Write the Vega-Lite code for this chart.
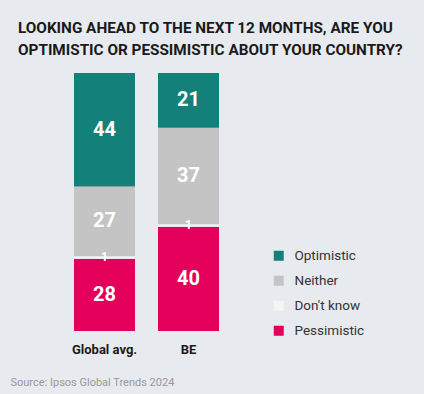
{
  "$schema": "https://vega.github.io/schema/vega-lite/v6.json",
  "width": 145,
  "height": 258,
  "autosize": {"type": "none"},
  "padding": {"left": 74, "top": 73, "right": 205, "bottom": 63},
  "background": "#e7eaee",
  "config": {"view": {"stroke": null}},
  "title": {
    "text": ["LOOKING AHEAD TO THE NEXT 12 MONTHS, ARE YOU", "OPTIMISTIC OR PESSIMISTIC ABOUT YOUR COUNTRY?"],
    "anchor": "start",
    "frame": "group",
    "dx": -56,
    "offset": 15,
    "font": "Roboto",
    "fontSize": 15.3,
    "fontWeight": "bold",
    "color": "#1a1a1a",
    "lineHeight": 22
  },
  "data": {
    "values": [
      {"country": "Global avg.", "answer": "Pessimistic", "order": 1, "value": 28},
      {"country": "Global avg.", "answer": "Don't know", "order": 2, "value": 1},
      {"country": "Global avg.", "answer": "Neither", "order": 3, "value": 27},
      {"country": "Global avg.", "answer": "Optimistic", "order": 4, "value": 44},
      {"country": "BE", "answer": "Pessimistic", "order": 1, "value": 40},
      {"country": "BE", "answer": "Don't know", "order": 2, "value": 1},
      {"country": "BE", "answer": "Neither", "order": 3, "value": 37},
      {"country": "BE", "answer": "Optimistic", "order": 4, "value": 21}
    ]
  },
  "transform": [
    {"stack": "value", "groupby": ["country"], "sort": [{"field": "order", "order": "ascending"}], "offset": "normalize", "as": ["y0", "y1"]}
  ],
  "layer": [
    {
      "mark": {"type": "bar"},
      "encoding": {
        "x": {
          "field": "country", "type": "nominal", "sort": ["Global avg.", "BE"],
          "scale": {"paddingInner": 0.274, "paddingOuter": 0},
          "axis": {
            "title": "Source: Ipsos Global Trends 2024",
            "titleAnchor": "start", "titleAlign": "left", "titleX": -64, "titleY": 54,
            "titleBaseline": "alphabetic",
            "titleFont": "Roboto", "titleFontSize": 11, "titleFontWeight": "normal", "titleColor": "#999999",
            "labelAngle": 0, "labelFont": "Roboto", "labelFontSize": 13, "labelFontWeight": "bold",
            "labelColor": "#1a1a1a", "labelPadding": 12, "domain": false, "ticks": false
          }
        },
        "y": {"field": "y0", "type": "quantitative", "scale": {"domain": [0, 1], "nice": false}, "axis": null},
        "y2": {"field": "y1"},
        "color": {
          "field": "answer", "type": "nominal",
          "scale": {"domain": ["Optimistic", "Neither", "Don't know", "Pessimistic"], "range": ["#13807a", "#c4c4c4", "#f4f4f4", "#e4005a"]},
          "legend": {
            "title": null, "orient": "none", "legendX": 198, "legendY": 176,
            "symbolType": "square", "symbolSize": 100, "symbolStrokeWidth": 0,
            "labelFont": "Roboto", "labelFontSize": 13.5, "labelColor": "#333333",
            "labelOffset": 9, "rowPadding": 10, "padding": 0,
            "encode": {"symbols": {"update": {"fill": {"signal": "datum.value === 'Neither' ? '#a6a6a6' : scale('color', datum.value)"}, "opacity": {"value": 1}}}}
          }
        }
      }
    },
    {
      "transform": [
        {"filter": "datum.answer !== \"Don't know\""},
        {"fold": ["y0", "y1"], "as": ["k", "v"]}
      ],
      "mark": {"type": "text", "font": "Roboto", "fontWeight": "bold", "fontSize": 20, "color": "white", "baseline": "middle"},
      "encoding": {
        "x": {"field": "country", "type": "nominal", "sort": ["Global avg.", "BE"]},
        "y": {"aggregate": "mean", "field": "v", "type": "quantitative"},
        "text": {"field": "value", "type": "quantitative"},
        "detail": {"field": "answer"}
      }
    },
    {
      "transform": [
        {"filter": "datum.answer === \"Don't know\""},
        {"fold": ["y0", "y1"], "as": ["k", "v"]}
      ],
      "mark": {"type": "text", "font": "Roboto", "fontWeight": "bold", "fontSize": 12, "color": "white", "baseline": "middle"},
      "encoding": {
        "x": {"field": "country", "type": "nominal", "sort": ["Global avg.", "BE"]},
        "y": {"aggregate": "mean", "field": "v", "type": "quantitative"},
        "text": {"field": "value", "type": "quantitative"},
        "detail": {"field": "answer"}
      }
    }
  ]
}
